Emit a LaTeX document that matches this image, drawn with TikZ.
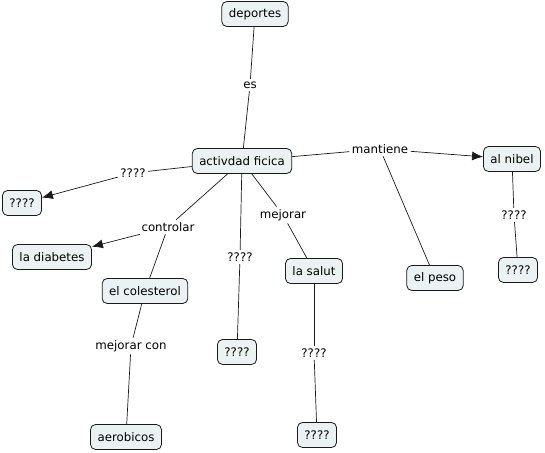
\documentclass[tikz,border=0pt]{standalone}
\usepackage{fontspec}
\setmainfont{DejaVu Sans}
\usepackage{xcolor}
\usetikzlibrary{arrows.meta}
\definecolor{cmapfill}{HTML}{EBF2F4}
\definecolor{cmapline}{HTML}{1A1A1A}

\begin{document}
\begin{tikzpicture}[
  x=1pt, y=-1pt,
  font=\fontsize{11.8}{13}\selectfont,
  concept/.style={draw=cmapline, fill=cmapfill, rounded corners=5pt,
                  minimum height=25pt, inner xsep=7pt, inner ysep=2pt, line width=0.8pt},
  link/.style={fill=white, inner sep=2.5pt},
  conn/.style={draw=cmapline, line width=0.7pt},
  arr/.style={conn, -{Latex[length=11pt, width=9pt]}}
]
\useasboundingbox (0,0) rectangle (545,452);

% concepts
\node[concept] (dep)  at (255,14)  {deportes};
\node[concept] (act)  at (242,161) {activdad ficica};
\node[concept] (qa)   at (22,203)  {????};
\node[concept] (diab) at (52,257)  {la diabetes};
\node[concept] (col)  at (145,291) {el colesterol};
\node[concept] (aer)  at (126,437) {aerobicos};
\node[concept] (qb)   at (237,352) {????};
\node[concept] (sal)  at (314,271) {la salut};
\node[concept] (qc)   at (317,435) {????};
\node[concept] (niv)  at (512,159) {al nibel};
\node[concept] (peso) at (435,278) {el peso};
\node[concept] (qd)   at (518,270) {????};

% linking phrases
\node[link] (les)  at (250,85)  {es};
\node[link] (lqa)  at (133,173) {????};
\node[link] (lcon) at (168,227) {controlar};
\node[link] (lmc)  at (131,346) {mejorar con};
\node[link] (lqb)  at (240,257) {????};
\node[link] (lmej) at (283,215) {mejorar};
\node[link] (lqc)  at (314,353) {????};
\node[link] (lman) at (380,149) {mantiene};
\node[link] (lqd)  at (514,215) {????};

% plain connectors
\foreach \a/\b in {dep/les, les/act, act/lqa, act/lcon, lcon/col, col/lmc, lmc/aer,
                   act/lqb, lqb/qb, act/lmej, lmej/sal, sal/lqc, lqc/qc,
                   act/lman, lman/peso, niv/lqd, lqd/qd}
  \draw[conn] (\a) -- (\b);

% arrows
\draw[arr] (lqa) -- (qa);
\draw[arr] (lcon) -- (diab);
\draw[arr] (lman) -- (niv);

\end{tikzpicture}
\end{document}
